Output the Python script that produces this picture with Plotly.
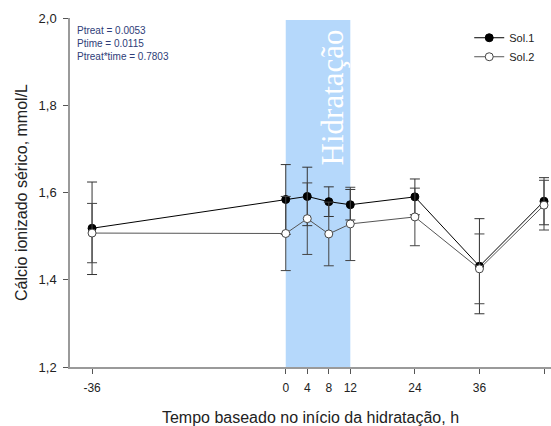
import plotly.graph_objects as go

# Sampling times (h, relative to start of hydration)
tempo = [-36, 0, 4, 8, 12, 24, 36, 48]
tick_vals = [-36, 0, 4, 8, 12, 24, 36, 48]

# Serum ionized calcium, mean and SD (mmol/L)
sol1_media = [1.518, 1.584, 1.591, 1.579, 1.572, 1.590, 1.431, 1.580]
sol1_dp = [0.106, 0.080, 0.067, 0.034, 0.035, 0.041, 0.109, 0.054]
sol2_media = [1.507, 1.506, 1.540, 1.505, 1.528, 1.544, 1.425, 1.571]
sol2_dp = [0.068, 0.085, 0.082, 0.073, 0.084, 0.066, 0.080, 0.057]

# Hydration window (h)
hidratacao = [0, 12]

estatisticas = ["Ptreat = 0.0053", "Ptime = 0.0115", "Ptreat*time = 0.7803"]

fig = go.Figure()

fig.add_shape(type="rect", xref="x", yref="paper",
              x0=hidratacao[0], x1=hidratacao[1], y0=0, y1=0.994,
              fillcolor="#b5d8fb", line_width=0, layer="below")

fig.add_trace(go.Scatter(
    x=tempo, y=sol1_media, name="Sol.1", mode="lines+markers",
    line=dict(color="black", width=1),
    marker=dict(symbol="circle", size=8, color="black",
                line=dict(color="black", width=1)),
    error_y=dict(type="data", array=sol1_dp, visible=True,
                 color="#333333", thickness=1, width=5),
))

fig.add_trace(go.Scatter(
    x=tempo, y=sol2_media, name="Sol.2", mode="lines+markers",
    line=dict(color="#555555", width=1),
    marker=dict(symbol="circle", size=8, color="white",
                line=dict(color="#444444", width=1)),
    error_y=dict(type="data", array=sol2_dp, visible=True,
                 color="#444444", thickness=1, width=5),
))

fig.add_annotation(x=(hidratacao[0] + hidratacao[1]) / 2 + 2.6, y=1.818,
                   xref="x", yref="y", text="Hidratação", textangle=-90,
                   showarrow=False,
                   font=dict(family="Liberation Serif, serif", size=31,
                             color="white"))

for i, txt in enumerate(estatisticas):
    fig.add_annotation(x=0.011, y=0.965 - i * 0.037, xref="paper", yref="paper",
                       text=txt, showarrow=False, xanchor="left",
                       yanchor="middle",
                       font=dict(family="Liberation Sans, Arial", size=10,
                                 color="#2e3d78"))

fig.update_layout(
    width=551, height=426,
    margin=dict(l=70, r=0, t=18, b=59),
    paper_bgcolor="white", plot_bgcolor="white",
    separators=",.",
    font=dict(family="Liberation Sans, Arial", size=12, color="#222222"),
    showlegend=True,
    legend=dict(x=0.83, y=0.985, xanchor="left", yanchor="top",
                bgcolor="rgba(0,0,0,0)", font=dict(size=11),
                tracegroupgap=0, itemwidth=30),
    xaxis=dict(
        range=[-40.1, 49.3], tickmode="array", tickvals=tick_vals,
        ticktext=[str(v) for v in tick_vals],
        showgrid=False, zeroline=False, showline=True,
        linecolor="#9a9a9a", linewidth=1.5,
        ticks="outside", ticklen=5, tickcolor="#555555",
        ticklabelstandoff=4,
        title=dict(text="Tempo baseado no início da hidratação, h",
                   font=dict(size=16), standoff=21),
    ),
    yaxis=dict(
        range=[1.2, 2.0], dtick=0.2, tickformat=".1f",
        showgrid=False, zeroline=False, showline=True,
        linecolor="#9a9a9a", linewidth=1.5,
        ticks="outside", ticklen=5, tickcolor="#555555",
        ticklabelstandoff=4, tickfont=dict(size=13),
        title=dict(text="Cálcio ionizado sérico, mmol/L",
                   font=dict(size=16), standoff=7),
    ),
)

fig.write_html("out.html")
